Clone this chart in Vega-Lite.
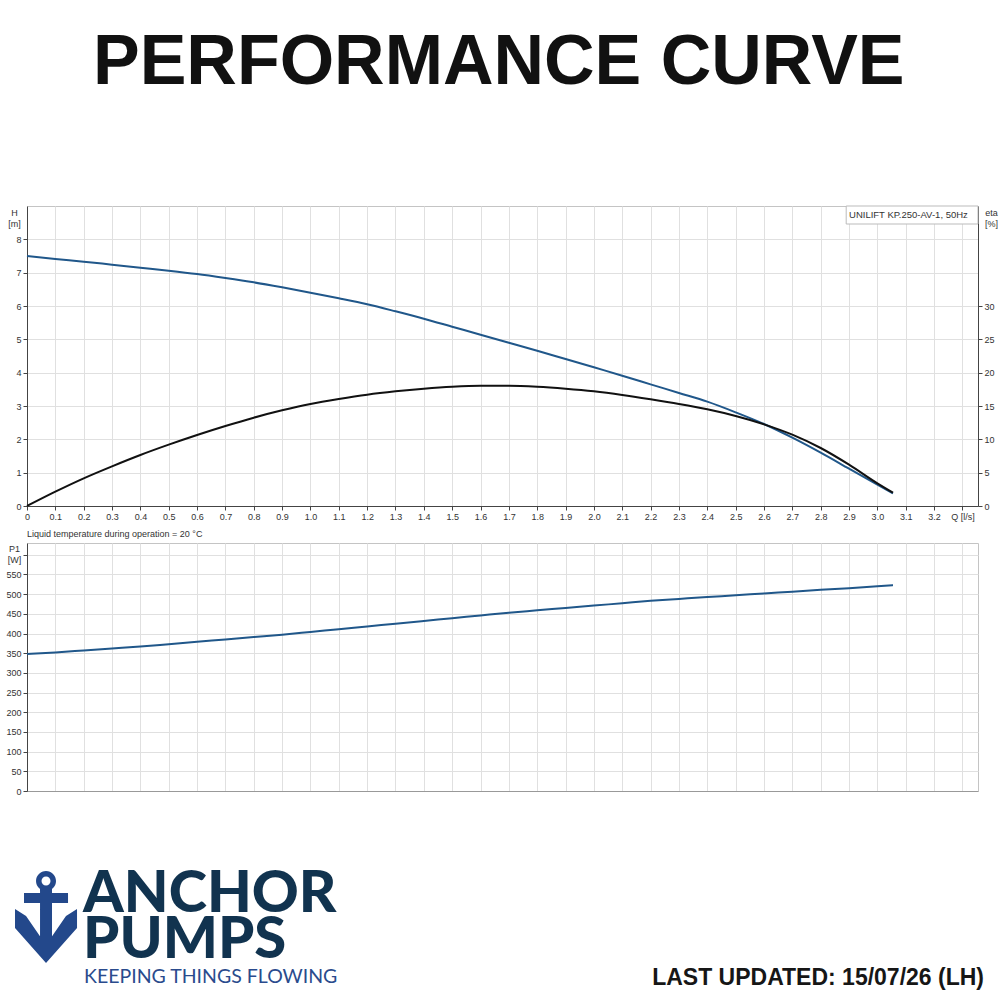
{
  "$schema": "https://vega.github.io/schema/vega-lite/v6.json",
  "padding": {"left": 5, "top": 28, "right": 3, "bottom": 5},
  "background": "white",
  "datasets": {
    "curves": [
      {"Q": 0.0, "H": 7.50, "eta": 0.0, "P1": 348},
      {"Q": 0.1, "H": 7.41, "eta": 2.15, "P1": 352},
      {"Q": 0.2, "H": 7.33, "eta": 4.15, "P1": 357},
      {"Q": 0.3, "H": 7.24, "eta": 5.95, "P1": 362},
      {"Q": 0.4, "H": 7.15, "eta": 7.65, "P1": 367},
      {"Q": 0.5, "H": 7.06, "eta": 9.2, "P1": 373},
      {"Q": 0.6, "H": 6.96, "eta": 10.65, "P1": 379},
      {"Q": 0.7, "H": 6.84, "eta": 12.0, "P1": 385},
      {"Q": 0.8, "H": 6.71, "eta": 13.25, "P1": 391},
      {"Q": 0.9, "H": 6.56, "eta": 14.35, "P1": 397},
      {"Q": 1.0, "H": 6.40, "eta": 15.3, "P1": 404},
      {"Q": 1.1, "H": 6.23, "eta": 16.05, "P1": 411},
      {"Q": 1.2, "H": 6.05, "eta": 16.7, "P1": 418},
      {"Q": 1.3, "H": 5.84, "eta": 17.2, "P1": 425},
      {"Q": 1.4, "H": 5.62, "eta": 17.6, "P1": 432},
      {"Q": 1.5, "H": 5.38, "eta": 17.9, "P1": 439},
      {"Q": 1.6, "H": 5.14, "eta": 18.05, "P1": 446},
      {"Q": 1.7, "H": 4.90, "eta": 18.05, "P1": 453},
      {"Q": 1.8, "H": 4.66, "eta": 17.9, "P1": 459},
      {"Q": 1.9, "H": 4.41, "eta": 17.6, "P1": 465},
      {"Q": 2.0, "H": 4.16, "eta": 17.2, "P1": 471},
      {"Q": 2.1, "H": 3.91, "eta": 16.65, "P1": 477},
      {"Q": 2.2, "H": 3.65, "eta": 16.0, "P1": 483},
      {"Q": 2.3, "H": 3.39, "eta": 15.3, "P1": 488},
      {"Q": 2.4, "H": 3.13, "eta": 14.5, "P1": 493},
      {"Q": 2.5, "H": 2.81, "eta": 13.5, "P1": 497},
      {"Q": 2.6, "H": 2.46, "eta": 12.25, "P1": 502},
      {"Q": 2.7, "H": 2.05, "eta": 10.7, "P1": 506},
      {"Q": 2.8, "H": 1.60, "eta": 8.7, "P1": 511},
      {"Q": 2.9, "H": 1.12, "eta": 6.2, "P1": 515},
      {"Q": 3.0, "H": 0.64, "eta": 3.4, "P1": 520},
      {"Q": 3.055, "H": 0.38, "eta": 2.0, "P1": 523}
    ]
  },
  "title": {
    "text": "PERFORMANCE CURVE",
    "font": "Liberation Sans",
    "fontSize": 70,
    "fontWeight": "bold",
    "color": "#111111",
    "anchor": "middle",
    "dx": -3,
    "offset": 106
  },
  "bounds": "flush",
  "spacing": 37,
  "vconcat": [
    {
      "width": 951,
      "height": 300,
      "data": {"name": "curves"},
      "layer": [
        {
          "mark": {"type": "line", "color": "#20578a", "strokeWidth": 2, "interpolate": "monotone"},
          "encoding": {
            "x": {
              "field": "Q", "type": "quantitative",
              "scale": {"domain": [0, 3.355], "nice": false},
              "axis": {
                "title": null,
                "values": [0, 0.1, 0.2, 0.3, 0.4, 0.5, 0.6, 0.7, 0.8, 0.9, 1.0, 1.1, 1.2, 1.3, 1.4, 1.5, 1.6, 1.7, 1.8, 1.9, 2.0, 2.1, 2.2, 2.3, 2.4, 2.5, 2.6, 2.7, 2.8, 2.9, 3.0, 3.1, 3.2, 3.3],
                "tickCount": 40,
                "labelExpr": "datum.value == 0 ? '0' : (datum.value > 3.25 ? 'Q [l/s]' : format(datum.value, '.1f'))",
                "labelOverlap": false,
                "labelFlush": false
              }
            },
            "y": {
              "field": "H", "type": "quantitative",
              "scale": {"domain": [0, 9], "nice": false},
              "axis": {
                "values": [0, 1, 2, 3, 4, 5, 6, 7, 8],
                "format": "d",
                "title": ["H", "[m]"],
                "titleAngle": 0,
                "titleAlign": "center",
                "titleBaseline": "top",
                "titleX": -13,
                "titleY": 2,
                "titleLineHeight": 11
              }
            }
          }
        },
        {
          "mark": {"type": "line", "color": "#111111", "strokeWidth": 2, "interpolate": "monotone"},
          "encoding": {
            "x": {
              "field": "Q", "type": "quantitative",
              "axis": {
                "title": null,
                "values": [0, 0.1, 0.2, 0.3, 0.4, 0.5, 0.6, 0.7, 0.8, 0.9, 1.0, 1.1, 1.2, 1.3, 1.4, 1.5, 1.6, 1.7, 1.8, 1.9, 2.0, 2.1, 2.2, 2.3, 2.4, 2.5, 2.6, 2.7, 2.8, 2.9, 3.0, 3.1, 3.2, 3.3],
                "tickCount": 40,
                "labelExpr": "datum.value == 0 ? '0' : (datum.value > 3.25 ? 'Q [l/s]' : format(datum.value, '.1f'))",
                "labelOverlap": false,
                "labelFlush": false
              }
            },
            "y": {
              "field": "eta", "type": "quantitative",
              "scale": {"domain": [0, 45], "nice": false},
              "axis": {
                "orient": "right",
                "grid": false,
                "values": [0, 5, 10, 15, 20, 25, 30],
                "format": "d",
                "title": ["eta", "[%]"],
                "titleAngle": 0,
                "titleAlign": "center",
                "titleBaseline": "top",
                "titleX": 13,
                "titleY": 2,
                "titleLineHeight": 11
              }
            }
          }
        },
        {
          "data": {"values": [{}]},
          "mark": {"type": "rect", "fill": "white", "stroke": "#bbbbbb", "strokeWidth": 1},
          "encoding": {
            "x": {"datum": 2.89, "type": "quantitative"},
            "x2": {"datum": 3.355},
            "y": {"datum": 9, "type": "quantitative", "scale": {"domain": [0, 9], "nice": false}, "axis": null},
            "y2": {"datum": 8.46}
          }
        },
        {
          "data": {"values": [{}]},
          "mark": {"type": "text", "align": "left", "baseline": "middle", "font": "Liberation Sans", "fontSize": 9.5, "color": "#333333"},
          "encoding": {
            "x": {"datum": 2.9, "type": "quantitative"},
            "y": {"datum": 8.73, "type": "quantitative", "scale": {"domain": [0, 9], "nice": false}, "axis": null},
            "text": {"value": "UNILIFT KP.250-AV-1, 50Hz"}
          }
        }
      ],
      "resolve": {"scale": {"y": "independent"}}
    },
    {
      "width": 951,
      "height": 248,
      "title": {
        "text": "Liquid temperature during operation = 20 °C",
        "anchor": "start",
        "frame": "group",
        "font": "Liberation Sans",
        "fontSize": 9,
        "fontWeight": "normal",
        "color": "#333333",
        "offset": 4
      },
      "data": {"name": "curves"},
      "mark": {"type": "line", "color": "#20578a", "strokeWidth": 2, "interpolate": "monotone"},
      "encoding": {
        "x": {
          "field": "Q", "type": "quantitative",
          "scale": {"domain": [0, 3.355], "nice": false},
          "axis": {
            "title": null,
            "values": [0, 0.1, 0.2, 0.3, 0.4, 0.5, 0.6, 0.7, 0.8, 0.9, 1.0, 1.1, 1.2, 1.3, 1.4, 1.5, 1.6, 1.7, 1.8, 1.9, 2.0, 2.1, 2.2, 2.3, 2.4, 2.5, 2.6, 2.7, 2.8, 2.9, 3.0, 3.1, 3.2, 3.3],
            "tickCount": 40,
            "labels": false,
            "ticks": false,
            "domainColor": "#999999"
          }
        },
        "y": {
          "field": "P1", "type": "quantitative",
          "scale": {"domain": [0, 630], "nice": false},
          "axis": {
            "values": [0, 50, 100, 150, 200, 250, 300, 350, 400, 450, 500, 550, 600],
            "tickCount": 20,
            "format": "d",
            "labelExpr": "datum.value == 600 ? '' : datum.label",
            "title": ["P1", "[W]"],
            "titleAngle": 0,
            "titleAlign": "center",
            "titleBaseline": "top",
            "titleX": -13,
            "titleY": 1,
            "titleLineHeight": 11
          }
        }
      }
    },
    {
      "width": 951,
      "height": 162,
      "view": {"stroke": null},
      "data": {"values": [{}]},
      "layer": [
        {
          "mark": {
            "type": "point",
            "filled": true,
            "opacity": 1,
            "size": 8100,
            "color": "#23488b",
            "shape": "M-0.222,-0.822A0.222,0.222 0 1,1 0.222,-0.822A0.222,0.222 0 1,1 -0.222,-0.822Z M-0.1,-0.822A0.1,0.1 0 1,0 0.1,-0.822A0.1,0.1 0 1,0 -0.1,-0.822Z M-0.489,-0.556L0.489,-0.556L0.489,-0.333L-0.489,-0.333Z M-0.133,-0.7L0.133,-0.7L0.133,0.822L-0.133,0.822Z M-0.689,-0.2L-0.444,-0.044L0,0.6L0.444,-0.044L0.689,-0.2L0.689,0.222L0,1L-0.689,0.222Z"
          },
          "encoding": {
            "x": {"datum": 2.0, "type": "quantitative", "scale": {"domain": [0, 100], "nice": false}, "axis": null},
            "y": {"datum": 44.4, "type": "quantitative", "scale": {"domain": [0, 100], "nice": false}, "axis": null}
          }
        },
        {
          "mark": {"type": "text", "align": "left", "baseline": "alphabetic", "font": "Lato", "fontWeight": 900, "fontSize": 58, "color": "#11334f"},
          "encoding": {
            "x": {"datum": 5.9, "type": "quantitative"},
            "y": {"datum": 48.1, "type": "quantitative"},
            "text": {"value": "ANCHOR"}
          }
        },
        {
          "mark": {"type": "text", "align": "left", "baseline": "alphabetic", "font": "Lato", "fontWeight": 900, "fontSize": 58, "color": "#11334f"},
          "encoding": {
            "x": {"datum": 5.9, "type": "quantitative"},
            "y": {"datum": 19.8, "type": "quantitative"},
            "text": {"value": "PUMPS"}
          }
        },
        {
          "mark": {"type": "text", "align": "left", "baseline": "alphabetic", "font": "Lato", "fontSize": 19.5, "color": "#2a4b8d"},
          "encoding": {
            "x": {"datum": 6.0, "type": "quantitative"},
            "y": {"datum": 4.3, "type": "quantitative"},
            "text": {"value": "KEEPING THINGS FLOWING"}
          }
        },
        {
          "mark": {"type": "text", "align": "right", "baseline": "alphabetic", "font": "Liberation Sans", "fontWeight": "bold", "fontSize": 23, "color": "#161616"},
          "encoding": {
            "x": {"datum": 100.63, "type": "quantitative"},
            "y": {"datum": 3.1, "type": "quantitative"},
            "text": {"value": "LAST UPDATED: 15/07/26 (LH)"}
          }
        }
      ]
    }
  ],
  "config": {
    "font": "Liberation Sans",
    "view": {"stroke": "#c4c4c4"},
    "axis": {
      "labelFont": "Liberation Sans",
      "labelFontSize": 9,
      "labelColor": "#333333",
      "labelOverlap": false,
      "domainColor": "#444444",
      "tickColor": "#444444",
      "tickSize": 4,
      "labelPadding": 2,
      "gridColor": "#e0e0e0",
      "titleFont": "Liberation Sans",
      "titleFontSize": 9,
      "titleFontWeight": "normal",
      "titleColor": "#333333"
    }
  }
}
